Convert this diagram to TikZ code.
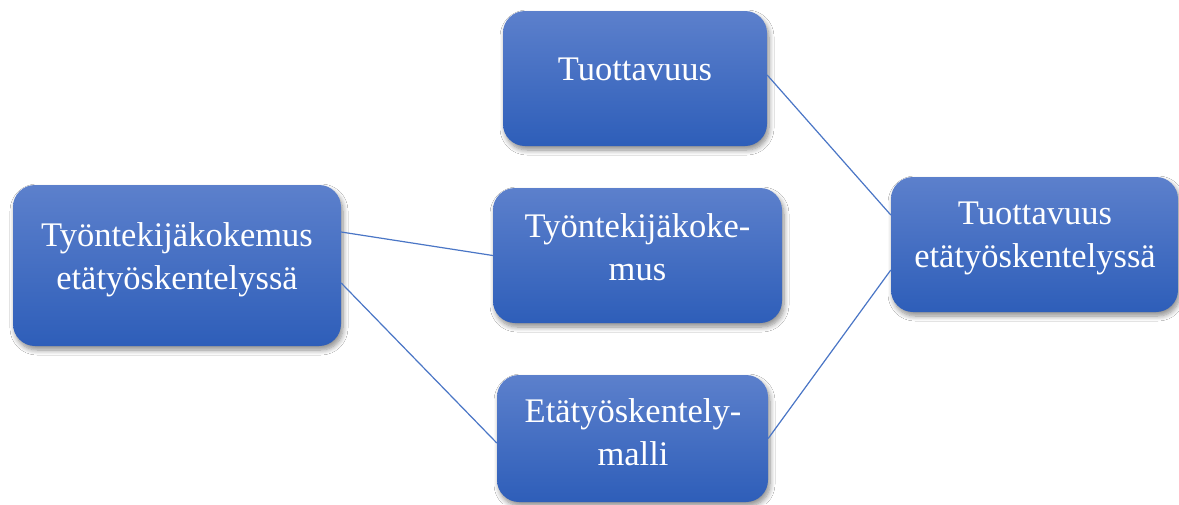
\documentclass[tikz,border=0pt]{standalone}
\usepackage{fontspec}
\setmainfont{Liberation Serif}
\usetikzlibrary{shadows,shadows.blur}
\definecolor{boxtop}{HTML}{5C80CC}
\definecolor{boxbot}{HTML}{2E5EB9}
\definecolor{linkc}{HTML}{4A76C6}
\tikzset{
  box/.style={rectangle, rounded corners=22pt, inner sep=0pt, draw=none,
    top color=boxtop, bottom color=boxbot,
    blur shadow={shadow xshift=2pt, shadow yshift=-4pt, shadow blur steps=8, shadow blur radius=5pt, shadow opacity=45}},
  txt/.style={text=white, align=center, inner sep=0pt, font={\fontsize{34.5}{42.5}\selectfont}, anchor=base},
  link/.style={draw=linkc, line width=1.2pt}
}
\begin{document}
\begin{tikzpicture}[x=1pt,y=-1pt]
\useasboundingbox (0,0) rectangle (1179,504);
\fill[white] (0,0) rectangle (1179,504);
% boxes
\node[box, minimum width=328pt, minimum height=161pt] (L) at (177,265.5) {};
\node[box, minimum width=264pt, minimum height=135pt] (T) at (635,78.5) {};
\node[box, minimum width=289pt, minimum height=135pt] (M) at (637.5,255.5) {};
\node[box, minimum width=271pt, minimum height=127pt] (B) at (632.5,438.5) {};
\node[box, minimum width=287pt, minimum height=135pt] (R) at (1034.5,244.5) {};
% connectors
\draw[link] ([yshift=33.5pt]L.east) -- (M.west);
\draw[link] ([yshift=-17.5pt]L.east) -- ([yshift=-4.5pt]B.west);
\draw[link] ([yshift=3.5pt]T.east) -- ([yshift=29.5pt]R.west);
\draw[link] (B.east) -- ([yshift=-25.5pt]R.west);
% texts (base anchor = baseline of the last line)
\node[txt] (Lt) at (177,289) {Työntekijäkokemus\\etätyöskentelyssä};
\node[txt] (Tt) at (635,80) {Tuottavuus};
\node[txt] (Mt) at (637.5,280) {Työntekijäkoke-\\mus};
\node[txt] (Bt) at (633,465) {Etätyöskentely-\\malli};
\node[txt] (Rt) at (1035,267) {Tuottavuus\\etätyöskentelyssä};
\end{tikzpicture}
\end{document}
